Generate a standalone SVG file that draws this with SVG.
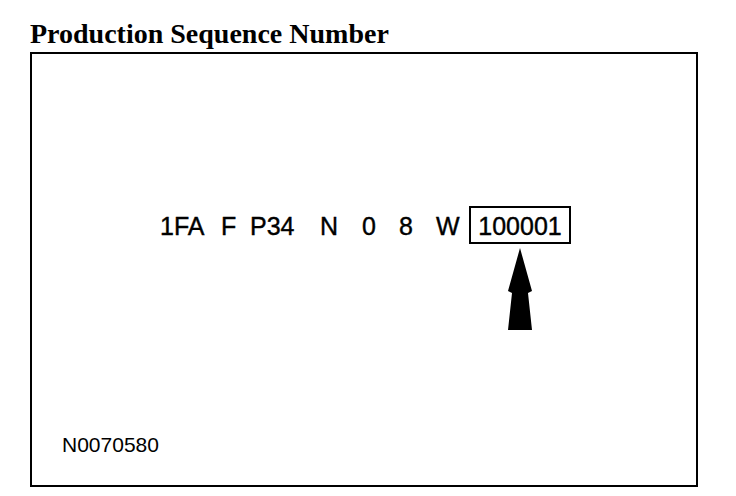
<svg xmlns="http://www.w3.org/2000/svg" width="736" height="496" viewBox="0 0 736 496">
<style>
.title{font-family:"Liberation Serif","Times New Roman",serif;font-weight:bold;font-size:28px;fill:#000}
.code{font-family:"Liberation Sans",Arial,sans-serif;font-size:25px;fill:#000;stroke:#000;stroke-width:0.4}
.ref{font-family:"Liberation Sans",Arial,sans-serif;font-size:21px;fill:#000}
.frame{fill:none;stroke:#000;stroke-width:2}
</style>
<rect width="736" height="496" fill="#fff"/>
<text class="title" x="30" y="43">Production Sequence Number</text>
<rect class="frame" x="31" y="53" width="666" height="433"/>
<g id="vin">
<text class="code" x="160" y="235">1FA</text>
<text class="code" x="221" y="235">F</text>
<text class="code" x="250" y="235">P34</text>
<text class="code" x="320" y="235">N</text>
<text class="code" x="362" y="235">0</text>
<text class="code" x="399" y="235">8</text>
<text class="code" x="436" y="235">W</text>
</g>
<g id="seq">
<rect class="frame" x="470" y="207" width="100" height="36"/>
<text class="code" x="520" y="235" text-anchor="middle">100001</text>
</g>
<g id="connectors">
<polygon points="520,248 532,291 528,293 532,330 508,330 512,293 508,291" fill="#000"/>
</g>
<text class="ref" x="62" y="452">N0070580</text>
</svg>
